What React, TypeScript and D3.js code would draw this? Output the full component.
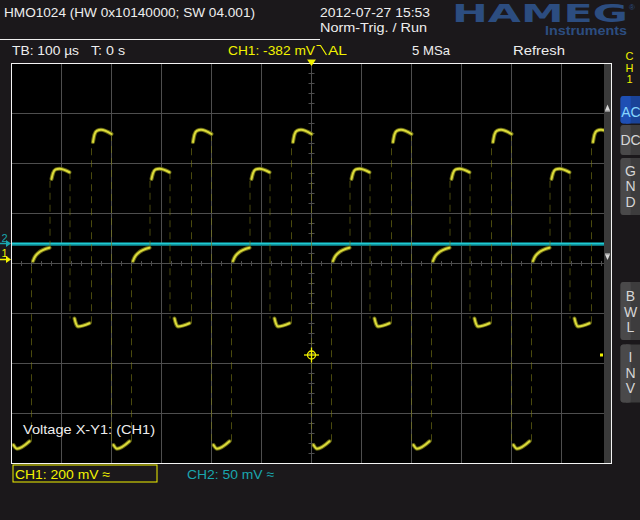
import React from "react";
import * as d3 from "d3";

// ---------- texts ----------
const headerTitle = "HMO1024 (HW 0x10140000; SW 04.001)";
const headerDate = "2012-07-27 15:53";
const headerMode = "Norm-Trig. / Run";
const timebaseLabel = "TB: 100 µs";
const triggerTimeLabel = "T: 0 s";
const triggerLevelLabel = "CH1: -382 mV";
const triggerCouplingLabel = "AL";
const sampleRateLabel = "5 MSa";
const acquireModeLabel = "Refresh";
const cursorLabel = "Voltage X-Y1: (CH1)";
const ch1ScaleLabel = "CH1: 200 mV ≈";
const ch2ScaleLabel = "CH2: 50 mV ≈";
const channelLetters = ["C", "H", "1"];

// ---------- scope settings ----------
const usPerDiv = 100;
const timeDivs = 12;
const ch1MvPerDiv = 200;
const ch1CentreMv = -16;
const ch2MvPerDiv = 50;
const ch2CentreMv = -20;
const triggerLevelMv = -382;
const triggerTimeUs = 0;

// ---------- CH1 trace (one period, [µs after falling edge, mV]) ----------
const ch1FallTimes = [-600, -400, -200, 0, 200, 400];
const ch1EdgeTimes = [40, 77, 117, 160, 200];
const ch1LevelBottom = [[4, -742], [11, -757], [36, -727]];
const ch1LevelLow = [[43, -6], [46, 8], [53, 25], [76, 47]];
const ch1LevelHigh = [[80, 322], [83, 345], [88, 360], [96, 363], [116, 349]];
const ch1LevelMid = [[126, -236], [129, -257], [133, -268], [156, -255]];
const ch1LevelTop = [[163, 470], [166, 500], [171, 515], [179, 519], [200, 502]];
const ch1Levels = [ch1LevelBottom, ch1LevelLow, ch1LevelHigh, ch1LevelMid, ch1LevelTop];

// ---------- CH2 trace ----------
const ch2Points = [[-600, 0], [-300, 0], [0, 0], [300, 0], [600, 0]];

// ---------- geometry ----------
const W = 640;
const H = 520;
const L = 11.5, R = 611.5, T = 63.5, B = 463.5;
const STRIP = 604;

const x = d3.scaleLinear().domain([-usPerDiv * timeDivs / 2, usPerDiv * timeDivs / 2]).range([L, R]);
const yDiv = d3.scaleLinear().domain([-4, 4]).range([B, T]);
const y1 = d3.scaleLinear().domain([ch1CentreMv - 4 * ch1MvPerDiv, ch1CentreMv + 4 * ch1MvPerDiv]).range([B, T]);
const y2 = d3.scaleLinear().domain([ch2CentreMv - 4 * ch2MvPerDiv, ch2CentreMv + 4 * ch2MvPerDiv]).range([B, T]);

const line1 = d3.line<number[]>().x(d => x(d[0])).y(d => y1(d[1])).curve(d3.curveMonotoneX);
const line2 = d3.line<number[]>().x(d => x(d[0])).y(d => y2(d[1]));

const FONT = "'Liberation Sans', Arial, sans-serif";
const WHITE = "#eeeeee";
const YELLOW = "#f2f200";
const TEAL = "#1aa6ae";
const BG = "#1b181b";

function SideButton({ y, h, labels, baselines, active }: { y: number; h: number; labels: string[]; baselines: number[]; active?: boolean }) {
  const left = active ? "#1e4fb4" : "#4a494a";
  const right = active ? "#1a4398" : "#3d3c3d";
  return (
    <g>
      <rect x={620.5} y={y} width={22} height={h} rx={3} fill={right} />
      <rect x={620.5} y={y} width={10} height={h} rx={3} fill={left} />
      <rect x={626} y={y} width={4.5} height={h} fill={left} />
      {active ? (
        <text x={631} y={baselines[0]} fontSize={14} fill="#86d6ff" fontFamily={FONT} textAnchor="middle">{labels.join("")}</text>
      ) : (
        labels.map((l, i) => (
          <text key={i} x={630.5} y={baselines[i]} fontSize={14} fill="#d6d6d6" fontFamily={FONT} textAnchor="middle">{l}</text>
        ))
      )}
    </g>
  );
}

export default function App() {
  const vLines = d3.range(-500, 600, usPerDiv);
  const hLines = d3.range(-3, 4, 1);
  const minorV = d3.range(-4, 4.001, 0.2);
  const minorH = d3.range(-600, 601, 20);

  const edges: string[] = [];
  const brights: string[] = [];
  ch1FallTimes.forEach(t0 => {
    ch1Levels.forEach((lvl, i) => {
      brights.push(line1(lvl.map(p => [t0 + p[0], p[1]]))!);
      const next = ch1Levels[(i + 1) % ch1Levels.length];
      const endV = lvl[lvl.length - 1][1];
      const te = t0 + ch1EdgeTimes[i];
      const startV = next[0][1];
      edges.push(`M${x(te)},${y1(endV)}L${x(te)},${y1(startV)}`);
    });
  });

  const trigX = x(triggerTimeUs);
  const trigY = y1(triggerLevelMv);

  return (
    <svg width={W} height={H} style={{ position: "fixed", left: 0, top: 0, background: BG }} xmlns="http://www.w3.org/2000/svg">
      <defs>
        <clipPath id="plotclip">
          <rect x={12} y={64} width={STRIP - 12} height={399} />
        </clipPath>
      </defs>
      <rect x={0} y={0} width={W} height={H} fill={BG} />

      {/* header */}
      <text x={4} y={17} fontSize={13.5} fill={WHITE} fontFamily={FONT} textLength={251} lengthAdjust="spacingAndGlyphs">{headerTitle}</text>
      <text x={320} y={17} fontSize={13.5} fill={WHITE} fontFamily={FONT} textLength={110} lengthAdjust="spacingAndGlyphs">{headerDate}</text>
      <text x={320} y={32} fontSize={13.5} fill={WHITE} fontFamily={FONT} textLength={107} lengthAdjust="spacingAndGlyphs">{headerMode}</text>
      <text x={452} y={21.5} fontSize={25} fontWeight="bold" fill="#2c4d80" fontFamily="'DejaVu Sans', sans-serif" textLength={176} lengthAdjust="spacingAndGlyphs">HAMEG</text>
      <text x={545} y={35} fontSize={12.5} fontWeight="bold" fill="#2c4d80" fontFamily={FONT} textLength={82} lengthAdjust="spacingAndGlyphs">Instruments</text>
      <text x={629} y={10} fontSize={8} fill="#2c4d80" fontFamily={FONT}>®</text>
      <line x1={0} x2={320} y1={39.5} y2={39.5} stroke={WHITE} strokeWidth={1} />

      {/* status row */}
      <text x={12} y={55} fontSize={13.5} fill={WHITE} fontFamily={FONT} textLength={67} lengthAdjust="spacingAndGlyphs">{timebaseLabel}</text>
      <text x={91} y={55} fontSize={13.5} fill={WHITE} fontFamily={FONT} textLength={34} lengthAdjust="spacingAndGlyphs">{triggerTimeLabel}</text>
      <text x={228} y={55} fontSize={13.5} fill={YELLOW} fontFamily={FONT} textLength={87} lengthAdjust="spacingAndGlyphs">{triggerLevelLabel}</text>
      <path d="M316.5,45.5H320.5L326.5,55" fill="none" stroke={YELLOW} strokeWidth={1.2} />
      <text x={328} y={55} fontSize={13.5} fill={YELLOW} fontFamily={FONT} textLength={19} lengthAdjust="spacingAndGlyphs">{triggerCouplingLabel}</text>
      <text x={412} y={55} fontSize={13.5} fill={WHITE} fontFamily={FONT} textLength={38} lengthAdjust="spacingAndGlyphs">{sampleRateLabel}</text>
      <text x={513} y={55} fontSize={13.5} fill={WHITE} fontFamily={FONT} textLength={52} lengthAdjust="spacingAndGlyphs">{acquireModeLabel}</text>

      {/* right panel */}
      {channelLetters.map((c, i) => (
        <text key={c} x={629.5} y={[60, 71.5, 83][i]} fontSize={11} fill={YELLOW} fontFamily={FONT} textAnchor="middle">{c}</text>
      ))}
      <SideButton y={96} h={27.5} labels={["A", "C"]} baselines={[117]} active />
      <SideButton y={125} h={30} labels={["DC"]} baselines={[145]} />
      <SideButton y={158} h={57} labels={["G", "N", "D"]} baselines={[176, 191, 207]} />
      <SideButton y={282} h={58} labels={["B", "W", "L"]} baselines={[300.5, 316.5, 331.5]} />
      <SideButton y={344.5} h={58} labels={["I", "N", "V"]} baselines={[362, 378, 393]} />

      {/* plot area */}
      <rect x={L} y={T} width={R - L} height={B - T} fill="#000" />
      <g stroke="#4e4e4e" strokeWidth={1}>
        {vLines.map(t => <line key={"v" + t} x1={x(t)} x2={x(t)} y1={T} y2={B} />)}
        {hLines.map(d => <line key={"h" + d} x1={L} x2={R} y1={yDiv(d)} y2={yDiv(d)} />)}
        {minorV.map(d => <line key={"mv" + d} x1={x(0) - 3} x2={x(0) + 3} y1={yDiv(d)} y2={yDiv(d)} />)}
        {minorH.map(t => <line key={"mh" + t} x1={x(t)} x2={x(t)} y1={yDiv(0) - 2.5} y2={yDiv(0) + 2.5} />)}
      </g>

      {/* scroll strip */}
      <rect x={STRIP} y={64} width={7} height={399} fill="#3a3a3a" />
      <path d="M605,110.5H610L607.5,104.5Z" fill="#d8d8d8" />
      <line x1={605} x2={610} y1={111} y2={111} stroke="#d8d8d8" />
      <path d="M605,254.5H610L607.5,260Z" fill="#d8d8d8" />
      <line x1={605} x2={610} y1={254} y2={254} stroke="#d8d8d8" />

      {/* traces */}
      <g clipPath="url(#plotclip)">
        <path d={line2(ch2Points)!} transform="translate(0,1.6)" fill="none" stroke="#0b7078" strokeWidth={2} />
        <path d={line2(ch2Points)!} fill="none" stroke="#1ecbd4" strokeWidth={2} />
        {edges.map((d, i) => <path key={"e" + i} d={d} fill="none" stroke="#7a7a18" strokeWidth={1} strokeDasharray="7 5" opacity={0.6} />)}
        {brights.map((d, i) => <path key={"bo" + i} d={d} fill="none" stroke="#7a7a18" strokeWidth={4} strokeLinecap="round" opacity={0.85} />)}
        {brights.map((d, i) => <path key={"bi" + i} d={d} fill="none" stroke="#dcdc3a" strokeWidth={2} strokeLinecap="round" />)}
      </g>

      {/* frame */}
      <rect x={L} y={T} width={R - L} height={B - T} fill="none" stroke="#f4f4f4" strokeWidth={1} />

      {/* markers */}
      <path d={`M${trigX - 4.5},59.5H${trigX + 4.5}L${trigX},66Z`} fill={YELLOW} />
      <g stroke={YELLOW} strokeWidth={1.3} fill="none">
        <circle cx={trigX} cy={trigY} r={4} />
        <line x1={trigX - 7.5} x2={trigX + 7.5} y1={trigY} y2={trigY} />
        <line x1={trigX} x2={trigX} y1={trigY - 7.5} y2={trigY + 7.5} />
      </g>
      <rect x={600} y={trigY - 1.5} width={3} height={3} fill={YELLOW} />

      {/* channel ground markers */}
      <text x={1.5} y={241.5} fontSize={11} fill={TEAL} fontFamily={FONT}>2</text>
      <line x1={0} x2={8} y1={y2(0)} y2={y2(0)} stroke={TEAL} strokeWidth={1.5} />
      <path d={`M6,${y2(0) - 3.5}L11,${y2(0)}L6,${y2(0) + 3.5}Z`} fill={TEAL} />
      <text x={1.5} y={256.5} fontSize={11} fill={YELLOW} fontFamily={FONT}>1</text>
      <line x1={0} x2={8} y1={y1(0)} y2={y1(0)} stroke={YELLOW} strokeWidth={1.5} />
      <path d={`M6,${y1(0) - 3.5}L11,${y1(0)}L6,${y1(0) + 3.5}Z`} fill={YELLOW} />

      {/* cursor label */}
      <text x={23} y={434} fontSize={13.5} fill={WHITE} fontFamily={FONT} textLength={132} lengthAdjust="spacingAndGlyphs">{cursorLabel}</text>

      {/* bottom row */}
      <rect x={13} y={465} width={144} height={17} fill="none" stroke={YELLOW} strokeWidth={1} />
      <text x={15} y={479} fontSize={13.5} fill={YELLOW} fontFamily={FONT} textLength={95} lengthAdjust="spacingAndGlyphs">{ch1ScaleLabel}</text>
      <text x={187} y={479} fontSize={13.5} fill={TEAL} fontFamily={FONT} textLength={87} lengthAdjust="spacingAndGlyphs">{ch2ScaleLabel}</text>
    </svg>
  );
}
